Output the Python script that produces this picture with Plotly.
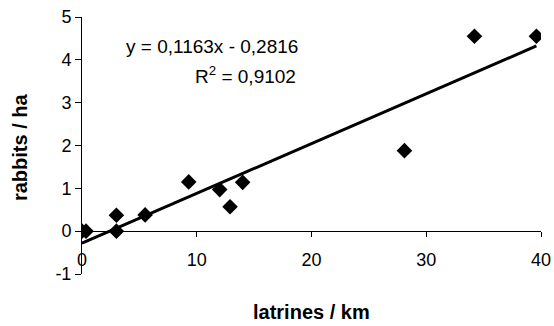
import numpy as np
import plotly.graph_objects as go

# Data
latrines_per_km = [0.0, 0.35, 3.0, 3.0, 5.5, 9.3, 12.0, 12.9, 14.0, 28.1, 34.2, 39.6]
rabbits_per_ha = [0.0, 0.0, 0.37, 0.0, 0.38, 1.15, 0.97, 0.57, 1.14, 1.88, 4.55, 4.55]
slope = 0.1163
intercept = -0.2816
r_squared = 0.9102
x_ticks = [0, 10, 20, 30, 40]
y_ticks = [-1, 0, 1, 2, 3, 4, 5]

font_family = "Liberation Sans, Arial, sans-serif"

x_line = np.array([min(latrines_per_km), max(latrines_per_km)])
y_line = slope * x_line + intercept

fig = go.Figure()
fig.add_trace(go.Scatter(
    x=x_line, y=y_line, mode="lines",
    line=dict(color="black", width=3), hoverinfo="skip", showlegend=False,
))
fig.add_trace(go.Scatter(
    x=latrines_per_km, y=rabbits_per_ha, mode="markers",
    marker=dict(symbol="diamond", size=12, color="black"),
    showlegend=False,
))

fig.update_layout(
    width=554, height=326,
    margin=dict(l=82, r=13, t=17, b=52, autoexpand=False),
    paper_bgcolor="white", plot_bgcolor="white",
    font=dict(family=font_family, size=18, color="black"),
    xaxis=dict(
        range=[0, 40], tickvals=x_ticks, ticktext=[str(v) for v in x_ticks],
        showgrid=False, zeroline=False, showline=True, linecolor="black", linewidth=1,
        ticks="outside", ticklen=5, tickcolor="black", tickwidth=1,
        anchor="free", position=1/6, ticklabelstandoff=7, automargin=False,
        tickfont=dict(size=18),
    ),
    yaxis=dict(
        range=[-1, 5], tickvals=y_ticks, ticktext=[str(v) for v in y_ticks],
        showgrid=False, zeroline=False, showline=True, linecolor="black", linewidth=1,
        ticks="outside", ticklen=6, tickcolor="black", tickwidth=1, automargin=False,
        tickfont=dict(size=18),
    ),
    annotations=[
        dict(text="y = 0,1163x - 0,2816", x=19.0, y=4.30, xref="x", yref="y",
             xanchor="right", yanchor="middle", showarrow=False, font=dict(size=19)),
        dict(text="R<sup>2</sup> = 0,9102", x=18.85, y=3.64, xref="x", yref="y",
             xanchor="right", yanchor="middle", showarrow=False, font=dict(size=19)),
        dict(text="<b>latrines / km</b>", x=0.5, y=-0.148, xref="paper", yref="paper",
             xanchor="center", yanchor="middle", showarrow=False, font=dict(size=20)),
        dict(text="<b>rabbits / ha</b>", x=-0.135, y=0.494, xref="paper", yref="paper",
             xanchor="center", yanchor="middle", showarrow=False, textangle=-90,
             font=dict(size=20)),
    ],
)

fig.write_html(
    "out.html",
    config={"displayModeBar": False},
    post_script="document.body.style.margin='0';document.body.style.overflow='hidden';",
)
